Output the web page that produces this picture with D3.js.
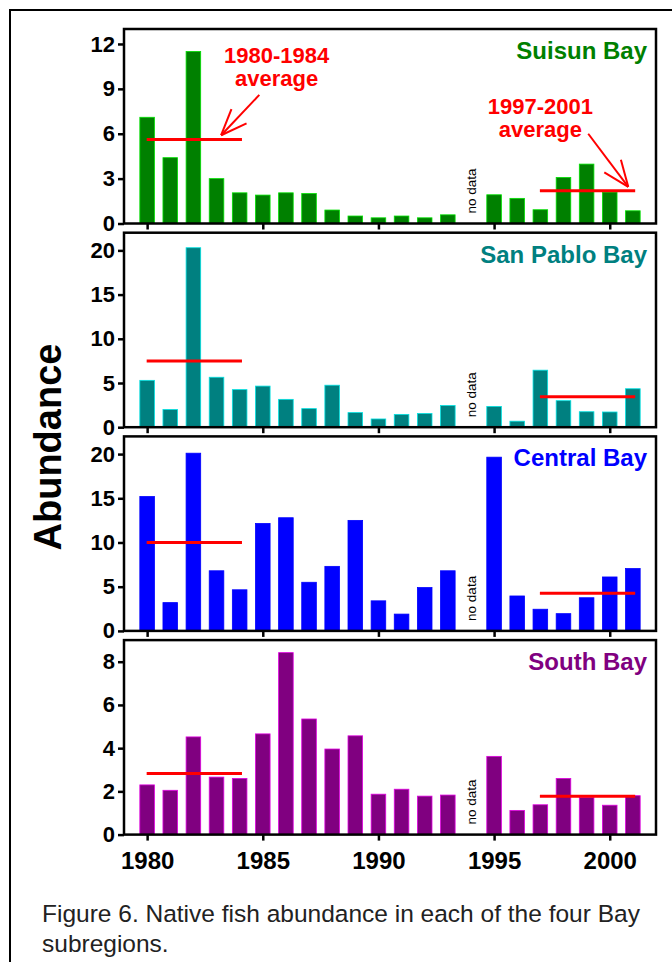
<!DOCTYPE html>
<html>
<head>
<meta charset="utf-8">
<script src="https://cdn.jsdelivr.net/npm/d3@7"></script>
<style>
  body { margin: 0; background: #fff; }
  text { font-family: 'Liberation Sans', Arial, sans-serif; }
</style>
</head>
<body>
<div class="canvas"></div>
<script>
// data, 1994 has no data
const years = [1980, 1981, 1982, 1983, 1984, 1985, 1986, 1987, 1988, 1989, 1990,
  1991, 1992, 1993, 1994, 1995, 1996, 1997, 1998, 1999, 2000, 2001]
const suisun = [7.1, 4.4, 11.5, 3.0, 2.05, 1.9, 2.05, 2.0, 0.9, 0.5, 0.38,
  0.5, 0.38, 0.58, null, 1.92, 1.68, 0.92, 3.08, 3.97, 2.1, 0.85]
const sanPablo = [5.3, 2.0, 20.3, 5.65, 4.25, 4.65, 3.15, 2.1, 4.75, 1.65, 0.93,
  1.45, 1.55, 2.45, null, 2.35, 0.68, 6.45, 3.0, 1.75, 1.72, 4.35]
const central = [15.2, 3.2, 20.1, 6.8, 4.65, 12.15, 12.8, 5.5, 7.3, 12.5, 3.4,
  1.9, 4.9, 6.8, null, 19.65, 3.95, 2.45, 1.95, 3.75, 6.1, 7.05]
const south = [2.3, 2.05, 4.52, 2.66, 2.6, 4.66, 8.42, 5.35, 3.96, 4.57, 1.87,
  2.1, 1.78, 1.83, null, 3.62, 1.12, 1.38, 2.6, 1.72, 1.36, 1.8]

const regions = ['Suisun Bay', 'San Pablo Bay', 'Central Bay', 'South Bay']
const series = [suisun, sanPablo, central, south]
const yMax = [13, 22, 22, 9]
const yTicks = [[0, 3, 6, 9, 12], [0, 5, 10, 15, 20], [0, 5, 10, 15, 20], [0, 2, 4, 6, 8]]
const xTicks = [1980, 1985, 1990, 1995, 2000]
const periods = [[1980, 1984], [1997, 2001]]
const noDataYear = 1994

const colors = ['#008000', '#008080', '#0000ff', '#800080']

// dimensions
const dims = { width: 672, height: 962 }
const plot = { left: 124, right: 656, top: 29, height: 194.5, step: 203.7 }

const svg = d3.select('.canvas')
  .append('svg')
  .attr('width', dims.width)
  .attr('height', dims.height)

// outer frame runs off the page on the right and bottom
svg.append('rect')
  .attr('x', 10).attr('y', 10)
  .attr('width', 720).attr('height', 1000)
  .attr('fill', 'none')
  .attr('stroke', '#000')
  .attr('stroke-width', 2)

const x = d3.scaleLinear()
  .domain([1979, 2002])
  .range([plot.left, plot.right])

const barW = 14.6

regions.forEach((name, i) => {
  const top = plot.top + i * plot.step
  const bottom = top + plot.height
  const y = d3.scaleLinear().domain([0, yMax[i]]).range([bottom, top])
  const g = svg.append('g')
  const values = series[i]

  // bars
  g.selectAll('rect.bar')
    .data(years.map((yr, j) => ({ yr, v: values[j] })).filter(d => d.v != null))
    .enter()
    .append('rect')
      .attr('class', 'bar')
      .attr('x', d => x(d.yr) - barW / 2)
      .attr('y', d => y(d.v))
      .attr('width', barW)
      .attr('height', d => bottom - y(d.v))
      .attr('fill', colors[i])
      .attr('stroke', d3.color(colors[i]).brighter(1.6))
      .attr('stroke-width', 0.8)

  // period averages
  periods.forEach(([a, b]) => {
    const avg = d3.mean(values.filter((v, j) => years[j] >= a && years[j] <= b))
    g.append('line')
      .attr('x1', x(a - 0.02)).attr('x2', x(b + 0.1))
      .attr('y1', y(avg)).attr('y2', y(avg))
      .attr('stroke', '#ff0000')
      .attr('stroke-width', 3)
  })

  // no data label
  g.append('text')
    .attr('transform', `translate(${x(noDataYear) + 5}, ${bottom - 10}) rotate(-90)`)
    .attr('font-size', 13.5)
    .text('no data')

  // axes
  const yAxis = d3.axisLeft(y).tickValues(yTicks[i]).tickSize(6).tickPadding(3)
  g.append('g')
    .attr('transform', `translate(${plot.left}, 0)`)
    .call(yAxis)
    .call(s => s.select('.domain').remove())
    .call(s => s.selectAll('line').attr('stroke-width', 2.5))
    .call(s => s.selectAll('text')
      .attr('font-size', 22).attr('font-weight', 'bold').attr('fill', '#000')
      .attr('font-family', "'Liberation Sans', Arial, sans-serif"))

  const xAxis = d3.axisBottom(x).tickValues(xTicks).tickSize(6).tickPadding(11)
    .tickFormat(i === 3 ? d3.format('d') : '')
  g.append('g')
    .attr('transform', `translate(0, ${bottom})`)
    .call(xAxis)
    .call(s => s.select('.domain').remove())
    .call(s => s.selectAll('line').attr('stroke-width', 2.5))
    .call(s => s.selectAll('text')
      .attr('font-size', 24).attr('font-weight', 'bold').attr('fill', '#000')
      .attr('font-family', "'Liberation Sans', Arial, sans-serif"))

  // plot box
  g.append('rect')
    .attr('x', plot.left).attr('y', top)
    .attr('width', plot.right - plot.left).attr('height', plot.height)
    .attr('fill', 'none')
    .attr('stroke', '#000')
    .attr('stroke-width', 2.5)

  // region title
  g.append('text')
    .attr('x', plot.right - 9)
    .attr('y', top + 30)
    .attr('text-anchor', 'end')
    .attr('font-size', 24)
    .attr('font-weight', 'bold')
    .attr('fill', colors[i])
    .text(name)

  // annotations only on the top panel
  if (i === 0) {
    const notes = [
      { label: '1980-1984', cx: 1985.6, ty: 10.75, from: [1984.85, 8.6], to: [1983.2, 5.9] },
      { label: '1997-2001', cx: 1997.0, ty: 7.3, from: [1999.07, 6.0], to: [2000.8, 2.45] }
    ]
    notes.forEach(n => {
      const t = g.append('text')
        .attr('x', x(n.cx)).attr('y', y(n.ty))
        .attr('text-anchor', 'middle')
        .attr('font-size', 22)
        .attr('font-weight', 'bold')
        .attr('fill', '#ff0000')
      t.append('tspan').attr('x', x(n.cx)).text(n.label)
      t.append('tspan').attr('x', x(n.cx)).attr('dy', 23).text('average')

      const x1 = x(n.from[0]), y1 = y(n.from[1])
      const x2 = x(n.to[0]), y2 = y(n.to[1])
      const ang = Math.atan2(y2 - y1, x2 - x1)
      const len = 28, spread = 0.38
      g.append('line')
        .attr('x1', x1).attr('y1', y1).attr('x2', x2).attr('y2', y2)
        .attr('stroke', '#ff0000').attr('stroke-width', 2)
      ;[-spread, spread].forEach(s => {
        g.append('line')
          .attr('x1', x2).attr('y1', y2)
          .attr('x2', x2 - len * Math.cos(ang + s))
          .attr('y2', y2 - len * Math.sin(ang + s))
          .attr('stroke', '#ff0000').attr('stroke-width', 2)
      })
    })
  }
})

// shared y label
svg.append('text')
  .attr('transform', `translate(61, 447) rotate(-90)`)
  .attr('text-anchor', 'middle')
  .attr('font-size', 38)
  .attr('font-weight', 'bold')
  .text('Abundance')

// caption
const caption = svg.append('text')
  .attr('x', 42).attr('y', 922)
  .attr('font-size', 24.5)
  .attr('fill', '#222')
caption.append('tspan').attr('x', 42).text('Figure 6. Native fish abundance in each of the four Bay')
caption.append('tspan').attr('x', 42).attr('dy', 30).text('subregions.')
</script>
</body>
</html>
